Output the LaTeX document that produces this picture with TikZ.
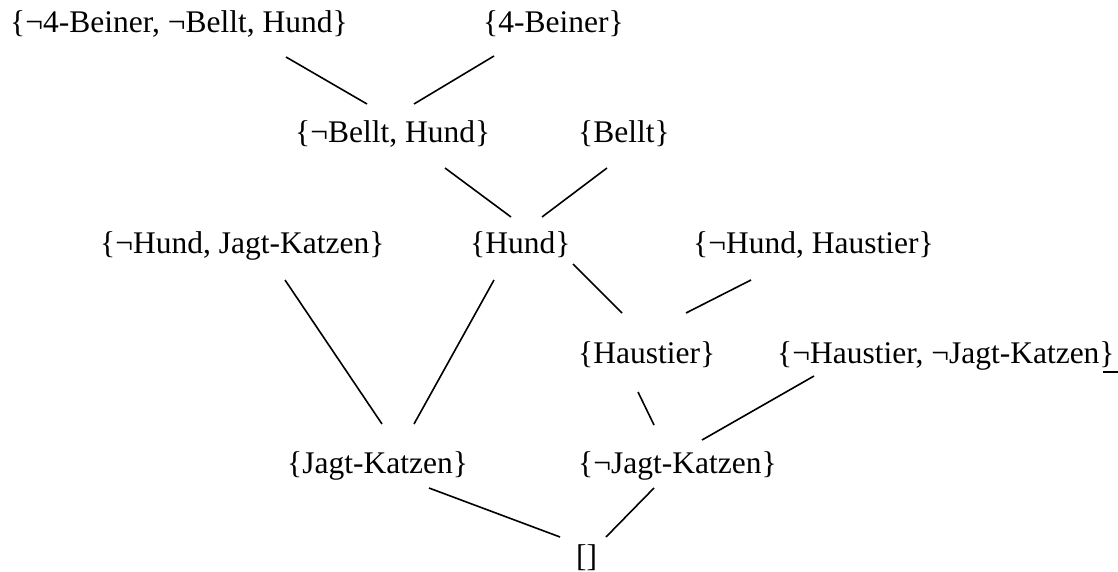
\documentclass[tikz,border=0pt]{standalone}
\usepackage{fontspec}
\setmainfont{Liberation Serif}
\begin{document}
\begin{tikzpicture}[x=1pt,y=-1pt,
  clause/.style={anchor=base west,inner sep=0pt,font=\fontsize{31.5}{38}\selectfont},
  edge/.style={line width=1.6pt}]
\useasboundingbox (0,0) rectangle (1118,572);
% clauses of the resolution tree
\node[clause] (A) at (10,33)  {\{¬4-Beiner, ¬Bellt, Hund\}};
\node[clause] (B) at (483,33) {\{4-Beiner\}};
\node[clause] (C) at (295,143) {\{¬Bellt, Hund\}};
\node[clause] (D) at (578,143) {\{Bellt\}};
\node[clause] (E) at (100,253) {\{¬Hund, Jagt-Katzen\}};
\node[clause] (F) at (470,253) {\{Hund\}};
\node[clause] (G) at (693,253) {\{¬Hund, Haustier\}};
\node[clause] (H) at (578,363) {\{Haustier\}};
\node[clause] (I) at (777,363) {\{¬Haustier, ¬Jagt-Katzen\}};
\node[clause] (J) at (287,473) {\{Jagt-Katzen\}};
\node[clause] (K) at (578,473) {\{¬Jagt-Katzen\}};
\node[clause] (L) at (576,566) {[]};
% resolution steps
\draw[edge] ([shift={(276,24)}]A.base west) -- ([shift={(72,-39)}]C.base west);
\draw[edge] ([shift={(11,23)}]B.base west) -- ([shift={(119,-39)}]C.base west);
\draw[edge] ([shift={(150,25)}]C.base west) -- ([shift={(41,-36)}]F.base west);
\draw[edge] ([shift={(29,25)}]D.base west) -- ([shift={(72,-36)}]F.base west);
\draw[edge] ([shift={(185,27)}]E.base west) -- ([shift={(95,-49)}]J.base west);
\draw[edge] ([shift={(24,27)}]F.base west) -- ([shift={(127,-49)}]J.base west);
\draw[edge] ([shift={(103,11)}]F.base west) -- ([shift={(44,-50)}]H.base west);
\draw[edge] ([shift={(58,27)}]G.base west) -- ([shift={(108,-50)}]H.base west);
\draw[edge] ([shift={(60,29)}]H.base west) -- ([shift={(76,-48)}]K.base west);
\draw[edge] ([shift={(37,13)}]I.base west) -- ([shift={(124,-33)}]K.base west);
\draw[edge] ([shift={(142,15)}]J.base west) -- ([shift={(-16,-29)}]L.base west);
\draw[edge] ([shift={(76,15)}]K.base west) -- ([shift={(30,-29)}]L.base west);
% underline under the closing brace
\draw[line width=1.6pt] ([shift={(-12,9)}]I.base east) -- ([shift={(4,9)}]I.base east);
\end{tikzpicture}
\end{document}
